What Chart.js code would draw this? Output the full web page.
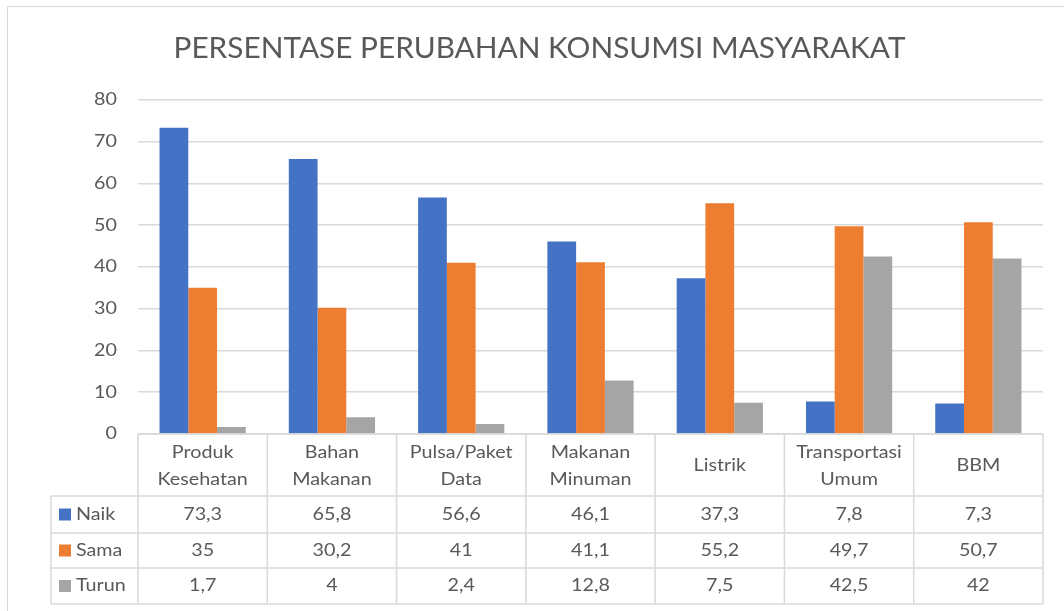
<!DOCTYPE html>
<html>
<head>
<meta charset="utf-8">
<script src="https://cdn.jsdelivr.net/npm/chart.js@4"></script>
<style>
  html, body { margin: 0; padding: 0; background: #fff; overflow: hidden; }
  #wrap { position: relative; width: 1064px; height: 611px; }
  #frame { position: absolute; left: 7px; top: 6px; width: 1100px; height: 700px; border: 1.5px solid #d9d9d9; box-sizing: border-box; pointer-events: none; }
  canvas { position: absolute; left: 0; top: 0; }
</style>
</head>
<body>
<div id="wrap">
  <div id="frame"></div>
  <canvas id="c" width="1064" height="611"></canvas>
</div>
<script>
const titleText = 'PERSENTASE PERUBAHAN KONSUMSI MASYARAKAT';
const categories = [
  ['Produk', 'Kesehatan'],
  ['Bahan', 'Makanan'],
  ['Pulsa/Paket', 'Data'],
  ['Makanan', 'Minuman'],
  ['Listrik'],
  ['Transportasi', 'Umum'],
  ['BBM']
];
const seriesNames = ['Naik', 'Sama', 'Turun'];
const naik = [73.3, 65.8, 56.6, 46.1, 37.3, 7.8, 7.3];
const sama = [35, 30.2, 41, 41.1, 55.2, 49.7, 50.7];
const turun = [1.7, 4, 2.4, 12.8, 7.5, 42.5, 42];
const yTicks = [0, 10, 20, 30, 40, 50, 60, 70, 80];
const colors = ['#4472C4', '#ED7D31', '#A5A5A5'];

const TEXT = '#595959';
const LINE = '#d9d9d9';
const FONT = 'Lato, "Open Sans", sans-serif';
const SMALL = '17px ' + FONT;
const STRETCH = 1.16;

const fmt = v => String(v).replace('.', ',');

function wideText(ctx, t, x, y, align) {
  ctx.save();
  ctx.translate(x, y);
  ctx.scale(STRETCH, 1);
  ctx.textAlign = align;
  ctx.fillText(t, 0, 0);
  ctx.restore();
}

const tablePlugin = {
  id: 'dataTable',
  afterDraw(chart) {
    const ctx = chart.ctx;
    const xs = chart.scales.x;
    const ys = chart.scales.y;
    const area = chart.chartArea;
    const n = categories.length;
    const w = (area.right - area.left) / n;
    const top = area.bottom;
    const headerBottom = top + 62;
    const rowH = 36;
    const legendLeft = 51;
    const rowsY = [headerBottom, headerBottom + rowH + 1, headerBottom + 2 * rowH, headerBottom + 3 * rowH];
    ctx.save();
    ctx.strokeStyle = LINE;
    ctx.lineWidth = 1.5;
    ctx.beginPath();
    ctx.moveTo(area.left, top); ctx.lineTo(area.right, top);
    rowsY.forEach(y => { ctx.moveTo(legendLeft, y); ctx.lineTo(area.right, y); });
    for (let i = 0; i <= n; i++) {
      const x = area.left + i * w;
      ctx.moveTo(x, top); ctx.lineTo(x, rowsY[3]);
    }
    ctx.moveTo(legendLeft, rowsY[0]); ctx.lineTo(legendLeft, rowsY[3]);
    ctx.stroke();

    ctx.fillStyle = TEXT;
    ctx.font = SMALL;
    ctx.textBaseline = 'middle';
    // y tick labels from the library's y scale
    ys.ticks.forEach(t => {
      wideText(ctx, String(t.value), area.left - 21, ys.getPixelForValue(t.value), 'right');
    });
    // header labels
    categories.forEach((lines, i) => {
      const cx = xs.getPixelForValue(i);
      const cy = (top + headerBottom) / 2 + 1;
      const lh = 27;
      lines.forEach((t, k) => {
        wideText(ctx, t, cx, cy + (k - (lines.length - 1) / 2) * lh, 'center');
      });
    });
    // data rows
    chart.data.datasets.forEach((ds, r) => {
      const cy = (rowsY[r] + rowsY[r + 1]) / 2;
      ctx.fillStyle = ds.backgroundColor;
      ctx.fillRect(59, cy - 6, 12, 12);
      ctx.fillStyle = TEXT;
      wideText(ctx, ds.label, 76, cy, 'left');
      ds.data.forEach((v, i) => {
        wideText(ctx, fmt(v), xs.getPixelForValue(i), cy, 'center');
      });
    });
    ctx.restore();
  }
};

new Chart(document.getElementById('c'), {
  type: 'bar',
  data: {
    labels: categories,
    datasets: [
      { label: seriesNames[0], data: naik, backgroundColor: colors[0] },
      { label: seriesNames[1], data: sama, backgroundColor: colors[1] },
      { label: seriesNames[2], data: turun, backgroundColor: colors[2] }
    ]
  },
  options: {
    responsive: false,
    animation: false,
    devicePixelRatio: 1,
    layout: { padding: { left: 36, right: 21, top: 0, bottom: 177 } },
    datasets: { bar: { categoryPercentage: 0.667, barPercentage: 1.0 } },
    plugins: {
      legend: { display: false },
      tooltip: { enabled: false },
      title: {
        display: true,
        text: titleText,
        color: TEXT,
        font: { family: FONT, size: 29.8, weight: 'normal' },
        padding: { top: 31, bottom: 33 }
      }
    },
    scales: {
      x: { display: false },
      y: {
        min: 0, max: 80,
        afterBuildTicks: s => { s.ticks = yTicks.map(v => ({ value: v })); },
        afterFit: s => { s.width = 102; },
        border: { display: false },
        grid: { color: LINE, lineWidth: 1.5, drawTicks: false },
        ticks: { display: false }
      }
    }
  },
  plugins: [tablePlugin]
});
</script>
</body>
</html>
